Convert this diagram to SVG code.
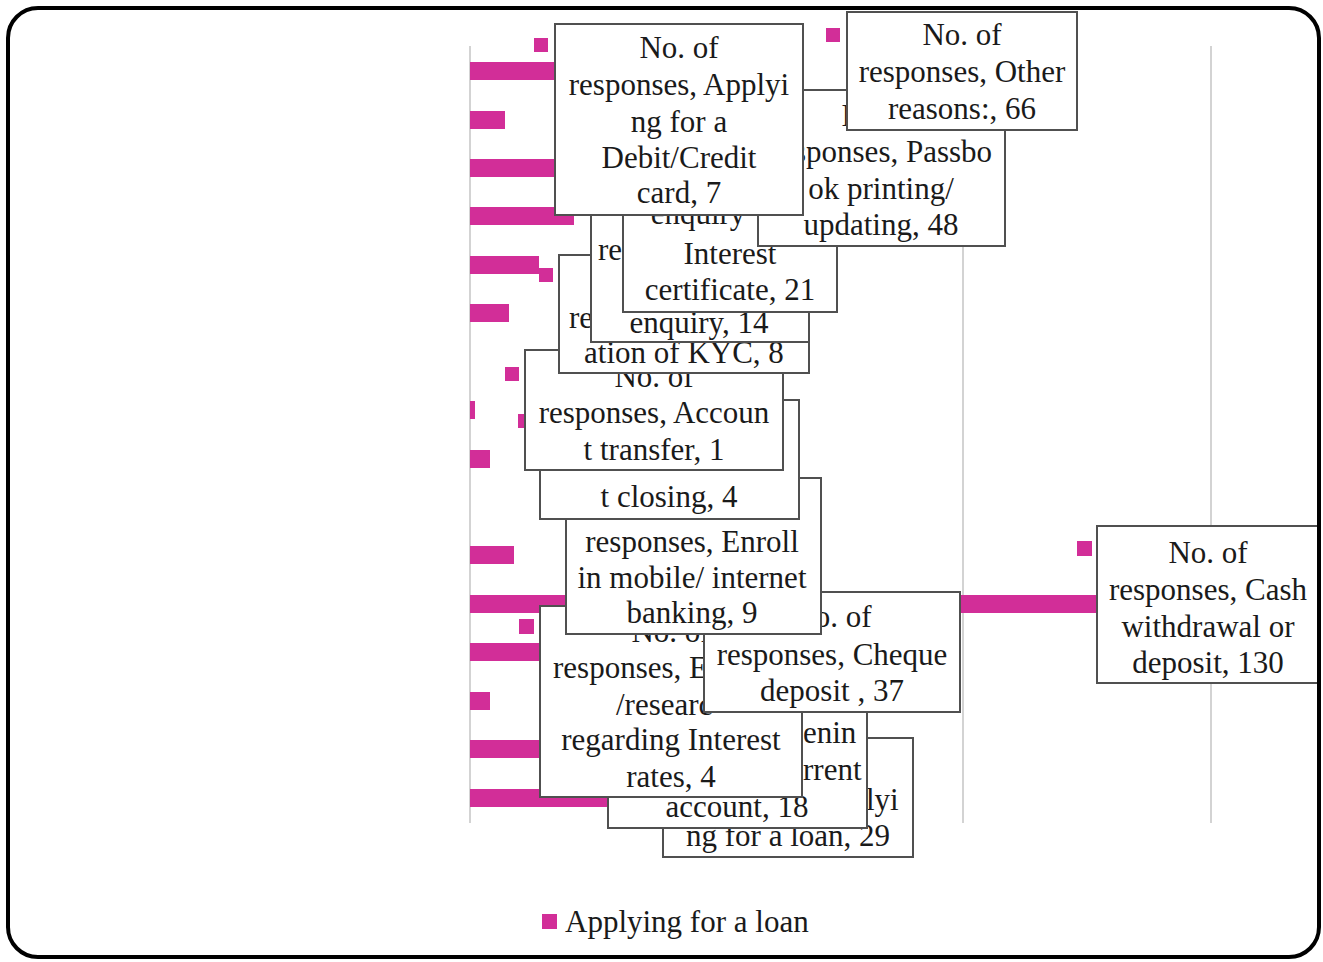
<svg xmlns="http://www.w3.org/2000/svg" width="1323" height="962" viewBox="0 0 1323 962">
<style>
.lbl rect{fill:#fff;stroke:#505050;stroke-width:2}
.lbl text,.leg{font-family:"Liberation Serif","Times New Roman",serif;font-size:31px;fill:#1a1a1a}
.lbl text{text-anchor:middle}
.lbl text.s{text-anchor:start}
.bar{fill:#d22e98}
.key{fill:#d22e98}
.grid{stroke:#c4c4c4;stroke-width:1.5}
</style>
<rect x="0" y="0" width="1323" height="962" fill="#fff"/>
<g id="gridlines">
<line class="grid" x1="470" y1="46" x2="470" y2="823" stroke="#a8a8a8"/>
<line class="grid" x1="717" y1="46" x2="717" y2="823"/>
<line class="grid" x1="963" y1="46" x2="963" y2="823"/>
<line class="grid" x1="1211" y1="46" x2="1211" y2="823"/>
</g>
<g id="bars">
<rect class="bar" x="470" y="62" width="326" height="18"/>
<rect class="bar" x="470" y="111" width="35" height="18"/>
<rect class="bar" x="470" y="159" width="237" height="18"/>
<rect class="bar" x="470" y="207" width="104" height="18"/>
<rect class="bar" x="470" y="256" width="69" height="18"/>
<rect class="bar" x="470" y="304" width="39" height="18"/>
<rect class="bar" x="470" y="401" width="5" height="18"/>
<rect class="bar" x="470" y="450" width="20" height="18"/>
<rect class="bar" x="470" y="546" width="44" height="18"/>
<rect class="bar" x="470" y="595" width="641" height="18"/>
<rect class="bar" x="470" y="643" width="183" height="18"/>
<rect class="bar" x="470" y="692" width="20" height="18"/>
<rect class="bar" x="470" y="740" width="89" height="18"/>
<rect class="bar" x="470" y="789" width="143" height="18"/>
</g>
<g id="legend-keys">
<rect class="key" x="534" y="38" width="14" height="14"/>
<rect class="key" x="826" y="28" width="14" height="14"/>
<rect class="key" x="539" y="268" width="14" height="14"/>
<rect class="key" x="505" y="367" width="14" height="14"/>
<rect class="key" x="518" y="414" width="14" height="14"/>
<rect class="key" x="519" y="619" width="15" height="15"/>
<rect class="key" x="1077" y="541" width="15" height="15"/>
</g>
<g id="label-loan" class="lbl">
<rect x="663" y="738" width="250" height="119"/>
<text class="s" x="866" y="810">lyi</text>
<text x="788" y="846">ng for a loan, 29</text>
</g>
<g id="label-current" class="lbl">
<rect x="608" y="700" width="259" height="128"/>
<text class="s" x="803" y="743">enin</text>
<text class="s" x="803" y="780">rrent</text>
<text x="737" y="817">account, 18</text>
</g>
<g id="label-rates" class="lbl">
<rect x="540" y="606" width="262" height="191"/>
<text x="671" y="642">No. of</text>
<text class="s" x="553" y="678">responses, E</text>
<text class="s" x="616" y="715">/researc</text>
<text x="671" y="750">regarding Interest</text>
<text x="671" y="787">rates, 4</text>
</g>
<g id="label-cheque" class="lbl">
<rect x="704" y="592" width="256" height="120"/>
<text x="832" y="627">No. of</text>
<text x="832" y="665">responses, Cheque</text>
<text x="832" y="701">deposit , 37</text>
</g>
<g id="label-cash" class="lbl">
<rect x="1097" y="526" width="221" height="157"/>
<text x="1208" y="563">No. of</text>
<text x="1208" y="600">responses, Cash</text>
<text x="1208" y="637">withdrawal or</text>
<text x="1208" y="673">deposit, 130</text>
</g>
<g id="label-mobile" class="lbl">
<rect x="566" y="478" width="255" height="156"/>
<text x="692" y="552">responses, Enroll</text>
<text x="692" y="588">in mobile/ internet</text>
<text x="692" y="623">banking, 9</text>
</g>
<g id="label-closing" class="lbl">
<rect x="540" y="400" width="259" height="119"/>
<text x="669" y="507">t closing, 4</text>
</g>
<g id="label-transfer" class="lbl">
<rect x="525" y="350" width="258" height="120"/>
<text x="654" y="387">No. of</text>
<text x="654" y="423">responses, Accoun</text>
<text x="654" y="460">t transfer, 1</text>
</g>
<g id="label-kyc" class="lbl">
<rect x="559" y="255" width="250" height="118"/>
<text class="s" x="569" y="328">re</text>
<text x="684" y="363">ation of KYC, 8</text>
</g>
<g id="label-balance" class="lbl">
<rect x="591" y="200" width="218" height="142"/>
<text class="s" x="598" y="260">re</text>
<text x="699" y="333">enquiry, 14</text>
</g>
<g id="label-interest" class="lbl">
<rect x="623" y="195" width="214" height="117"/>
<text x="698" y="224">enquiry</text>
<text x="730" y="264">Interest</text>
<text x="730" y="300">certificate, 21</text>
</g>
<g id="label-passbook" class="lbl">
<rect x="758" y="90" width="247" height="156"/>
<text x="881" y="126">No. of</text>
<text x="881" y="162">responses, Passbo</text>
<text x="881" y="199">ok printing/</text>
<text x="881" y="235">updating, 48</text>
</g>
<g id="label-debit" class="lbl">
<rect x="555" y="24" width="248" height="191"/>
<text x="679" y="58">No. of</text>
<text x="679" y="95">responses, Applyi</text>
<text x="679" y="132">ng for a</text>
<text x="679" y="168">Debit/Credit</text>
<text x="679" y="203">card, 7</text>
</g>
<g id="label-other" class="lbl">
<rect x="847" y="12" width="230" height="118"/>
<text x="962" y="45">No. of</text>
<text x="962" y="82">responses, Other</text>
<text x="962" y="119">reasons:, 66</text>
</g>
<g id="legend">
<rect class="key" x="542" y="914" width="15" height="15"/>
<text class="leg" x="565" y="932">Applying for a loan</text>
</g>
<rect id="frame" x="8" y="8" width="1311" height="949" rx="30" fill="none" stroke="#000" stroke-width="4"/>
</svg>
